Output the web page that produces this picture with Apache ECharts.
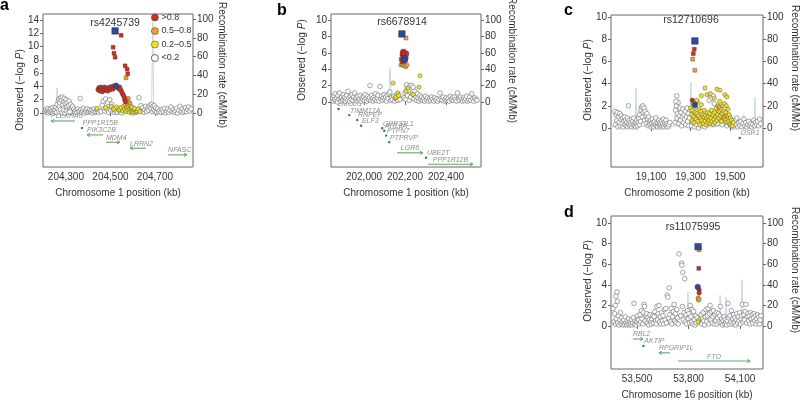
<!DOCTYPE html>
<html><head><meta charset="utf-8">
<script src="https://cdn.jsdelivr.net/npm/echarts@6/dist/echarts.min.js"></script>
<style>html,body{margin:0;padding:0;background:#fff}#c{width:800px;height:403px}</style>
</head><body><div id="c"></div>
<script>
// ---------------- DATA ----------------
const recTicks = [0,20,40,60,80,100];
const aXTicks = [204300,204500,204700];
const aYTicks = [0,2,4,6,8,10,12,14];
const bXTicks = [202000,202200,202400];
const bYTicks = [0,2,4,6,8,10];
const cXTicks = [19100,19300,19500];
const cYTicks = [0,2,4,6,8,10];
const dXTicks = [53500,53800,54100];
const dYTicks = [0,2,4,6,8,10];
const legendNames = ['>0.8','0.5–0.8','0.2–0.5','<0.2'];
const snpNames = ['rs4245739','rs6678914','rs12710696','rs11075995'];
const xTitles = ['Chromosome 1 position (kb)','Chromosome 1 position (kb)','Chromosome 2 position (kb)','Chromosome 16 position (kb)'];

// panel a
const aGrey = [[204207,0.2],[204210,0.5],[204213,0.1],[204216,0.3],[204219,0.7],[204222,0.0],[204225,0.4],[204228,0.2],[204231,0.6],[204234,0.1],[204237,0.3],[204240,0.8],[204243,0.0],[204246,0.5],[204249,0.2],[204252,0.4],[204255,0.9],[204258,0.1],
[204261,1.3],[204264,0.6],[204266,1.8],[204269,2.1],[204271,1.0],[204273,1.5],[204276,2.3],[204278,0.3],[204280,1.9],[204283,2.4],[204285,1.2],[204287,0.7],[204290,1.7],[204292,2.2],[204295,0.4],[204297,1.4],[204300,2.0],[204303,0.9],[204305,1.6],[204308,0.2],[204311,1.1],[204314,1.8],[204317,0.5],[204320,1.3],[204323,0.1],[204326,0.8],[204330,1.0],[204333,0.3],[204336,0.6],[204340,0.2],
[204268,0.2],[204275,0.5],[204282,0.1],[204289,0.4],[204296,0.0],[204302,0.3],[204310,0.1],[204318,0.2],
[204344,0.4],[204348,0.1],[204352,0.6],[204356,0.2],[204360,0.3],[204364,2.2],[204367,0.5],[204371,0.1],[204375,0.3],[204379,0.7],[204383,0.0],[204387,0.4],[204391,0.2],[204395,0.6],[204399,0.1],[204403,0.3],[204407,0.5],[204411,0.2],[204415,0.4],[204419,0.0],[204423,0.3],[204427,0.6],[204431,0.1],[204435,0.2],[204439,0.5],[204443,0.3],[204447,0.1],
[204452,0.4],[204458,0.2],[204463,1.2],[204468,1.8],[204474,0.3],[204478,2.1],[204483,0.6],[204488,1.6],[204492,0.1],[204497,2.0],[204501,0.4],[204505,1.3],[204510,0.2],[204515,0.5],[204520,0.1],
[204526,0.3],[204532,0.1],[204538,0.4],[204545,0.2],[204552,0.0],[204590,0.2],[204598,0.0],[204606,0.3],[204614,0.1],[204622,0.4],[204628,2.3],[204632,0.6],[204637,1.1],
[204642,0.3],[204646,0.8],[204650,0.1],[204654,0.5],[204658,1.0],[204662,0.2],[204666,0.7],[204670,0.4],[204674,0.9],[204678,1.2],[204682,0.6],[204685,1.3],[204688,0.2],[204691,1.0],[204694,0.5],[204697,1.1],[204700,0.3],[204704,0.8],[204708,0.1],[204712,0.6],[204716,0.2],
[204722,0.4],[204727,0.1],[204732,0.5],[204737,0.2],[204742,0.7],[204747,0.0],[204752,0.3],[204757,0.6],[204762,0.1],[204767,0.4],[204772,0.9],[204777,0.2],[204782,0.5],[204787,0.1],[204792,0.3],[204797,0.7],[204802,0.0],[204807,0.4],[204812,1.0],[204817,0.2],[204822,0.6],[204827,0.1],[204832,0.3],[204837,0.8],[204842,0.2],[204847,0.5],[204852,0.9],[204857,0.3],[204862,0.6]];
const aYellow = [[204440,0.7],[204478,0.8],[204503,1.0],[204515,0.6],[204528,0.9],[204540,0.5],[204548,0.8],[204554,0.3],[204560,1.0],[204563,0.5],[204566,1.3],[204569,0.2],[204572,0.8],[204575,1.1],[204578,0.4],[204581,0.9],[204584,0.1],[204587,0.6],[204590,1.0],[204593,0.3],[204596,0.7],[204599,0.2],[204603,0.5],[204607,0.1],[204611,0.4],[204616,0.2],[204621,0.3],[204574,1.6],[204582,1.4],[204588,1.2],[204597,0.9],[204608,0.7],[204624,0.6],[204632,0.2]];
const aOrange = [[204570,5.3],[204580,2.2],[204588,1.5],[204576,1.8]];
const aRed = [[204444,3.5],[204448,3.8],[204452,3.3],[204456,3.9],[204460,3.6],[204464,3.2],[204468,3.7],[204472,3.9],[204476,3.4],[204480,3.8],[204484,3.6],[204488,3.3],[204492,3.7],[204496,3.9],[204500,3.5],[204504,3.8],[204508,4.0],[204512,3.6],[204516,3.9],[204520,4.1],[204530,4.0],[204534,3.8],[204538,3.6],[204542,3.9],[204546,3.5],[204550,3.2],[204554,2.9],[204558,2.7],[204562,2.4],[204564,2.0],[204568,1.7],[204512,9.9],[204516,9.0],[204521,8.4],[204548,11.7],[204566,7.1],[204575,6.6],[204578,5.9]];
const aLead = [[204521,12.35]];
const aLead2 = [[204525,4.1]];
const aRecomb = [[204197,1],[204240,2],[204255,3],[204260,27],[204265,2],[204300,1.5],[204350,2.5],[204400,1],[204450,2],[204500,3],[204520,1],[204560,2],[204620,1.5],[204660,2],[204685,4],[204690,97],[204695,3],[204740,1],[204800,2],[204871,1]];
const aGenes = [['PLEKHA6',204233,204341,-1.2,-1],['PPP1R15B',204370,204374,-2.26,-1],['PIK3C2B',204395,204467,-3.3,-1],['MDM4',204480,204543,-4.4,1],['LRRN2',204588,204660,-5.3,-1],['NFASC',204759,204844,-6.3,1]];

// panel b
const bGrey = [[201846,0.4],[201850,0.1],[201853,0.7],[201856,0.3],[201860,1.0],[201863,0.2],[201866,0.5],[201870,0.0],[201873,0.8],[201877,0.3],[201880,1.1],[201884,0.4],[201888,0.1],[201891,0.6],[201895,0.2],[201898,0.9],[201902,0.3],[201905,0.6],[201909,0.1],[201912,0.4],[201916,0.8],[201920,0.2],[201922,1.3],[201926,0.5],[201930,0.1],[201934,0.7],[201938,0.3],[201942,0.9],[201946,0.2],[201950,0.6],[201954,1.1],[201958,0.3],[201962,0.5],[201966,0.1],[201970,0.7],[201974,0.2],[201978,0.4],[201982,0.8],[201986,0.1],[201990,0.5],[201994,0.3],[201998,0.6],[202002,0.2],[202006,0.9],[202010,0.4],[202014,0.1],[202018,0.7],[202022,0.3],[202026,0.5],[202029,2.0],[202033,0.2],[202037,0.8],[202041,0.4],[202045,0.1],[202049,0.6],[202053,0.3],[202057,1.0],[202061,0.2],[202065,0.5],[202069,0.8],[202073,0.1],[202078,1.9],[202082,0.4],[202086,0.7],[202090,0.2],[202094,0.5],[202098,0.9],[202102,0.3],[202106,0.6],[202110,0.1],[202114,0.8],[202118,0.4],[202122,1.0],[202126,1.2],[202130,0.2],[202134,0.5],[202138,0.3],[202146,0.7],[202150,0.1],[202155,0.4],[202160,0.9],[202165,0.2],[202170,0.6],[202175,0.3],[202196,0.5],[202200,1.1],[202204,0.3],[202208,2.1],[202212,0.8],[202216,1.4],[202220,0.2],[202224,2.0],[202228,0.6],[202232,2.0],[202236,1.0],[202240,1.8],[202244,0.4],[202248,1.3],[202252,0.7],[202256,0.2],[202260,1.0],[202264,0.5],[202268,0.1],[202272,0.8],[202276,0.3],[202280,0.6],[202285,0.2],[202290,0.4],[202295,0.1],[202300,0.7],[202305,0.3],[202310,0.5],[202315,0.1],[202320,0.4],[202325,0.2],[202330,0.6],[202335,0.3],[202340,0.1],[202345,0.5],[202350,0.2],[202355,0.4],[202360,0.1],[202366,0.3],[202371,1.1],[202376,0.4],[202381,0.2],[202386,0.6],[202391,0.1],[202396,0.3],[202401,0.5],[202406,0.2],[202411,0.4],[202416,0.1],[202421,0.7],[202426,0.3],[202431,0.5],[202436,0.2],[202441,0.6],[202446,0.3],[202451,0.1],[202456,1.1],[202461,0.4],[202466,0.2],[202471,0.6],[202476,0.3],[202481,0.1],[202486,0.5],[202491,0.2],[202496,0.4],[202501,0.7],[202506,0.1],[202511,0.3],[202516,0.6],[202521,0.2],[202526,1.0],[202531,0.4],[202536,0.1],[202541,0.5],[202546,0.3],[202551,0.2]];
const bYellow = [[202142,2.3],[202151,0.5],[202156,0.6],[202166,1.1],[202170,0.8],[202205,1.3],[202215,1.7],[202268,1.8],[202273,3.2],[202240,0.9]];
const bOrange = [[202205,7.8],[202180,4.5],[202188,4.6],[202196,4.4],[202204,4.3],[202210,4.5]];
const bRed = [[202182,5.2],[202185,5.8],[202188,6.1],[202191,5.5],[202194,6.2],[202197,5.0],[202200,5.7],[202203,6.0],[202206,5.4],[202209,5.9],[202186,4.9],[202199,5.2],[202192,5.9],[202202,5.1]];
const bLead = [[202185,8.3]];
const bLead2 = [[202195,5.4],[202198,5.1]];
const bRecomb = [[201839,1],[201855,2],[201860,12],[201865,2],[201950,1],[202050,2],[202120,3],[202127,41],[202134,2],[202190,2],[202200,22],[202210,1],[202300,2],[202400,1],[202500,2],[202571,1]];
const bGenes = [['LMOD1',201868,201883,-0.85,-1],['TIMM17A',201927,201929,-1.6,-1],['RNPEP',201966,201968,-2.2,1],['ELF3',201985,201987,-2.9,1],['GPR37L1',202088,202090,-3.2,-1],['ARL8A',202098,202100,-3.5,-1],['PTPN7',202107,202109,-4.1,-1],['PTPRVP',202122,202124,-4.9,-1],['LGR6',202161,202288,-6.2,1],['UBE2T',202302,202304,-6.8,-1],['PPP1R12B',202312,202532,-7.6,1]];

// panel c
const cGrey = [[18917,1.5],[18920,0.3],[18923,1.2],[18926,0.7],[18929,1.4],[18932,0.1],[18935,1.0],[18938,0.5],[18941,1.3],[18944,0.2],[18947,0.8],[18950,1.1],[18953,0.4],[18956,0.9],[18959,0.1],[18962,0.6],[18965,1.0],[18968,0.3],[18971,0.7],[18974,0.2],[18977,0.5],[18980,0.9],[18983,0.1],[18986,0.4],[18989,0.7],[18992,0.2],[18995,0.5],[18998,0.3],[18985,2.0],[19001,0.8],[19004,0.1],[19007,0.6],[19010,0.3],[19013,0.9],[19016,0.2],[19019,0.5],[19022,0.1],[19025,0.4],[19028,0.7],[19031,0.2],[19034,0.5],[19037,0.9],[19040,0.3],[19043,1.2],[19046,0.6],[19049,1.6],[19052,1.9],[19055,1.0],[19058,2.0],[19061,1.4],[19064,1.8],[19067,0.7],[19070,1.5],[19073,1.1],[19076,0.4],[19079,1.3],[19082,0.8],[19085,0.2],[19088,1.0],[19091,0.5],[19094,0.3],[19097,0.7],[19100,0.1],[19103,0.4],[19106,0.8],[19109,0.2],[19112,0.5],[19115,0.1],[19118,0.6],[19121,0.3],[19124,0.9],[19127,0.2],[19130,0.5],[19133,0.1],[19136,0.4],[19139,0.7],[19142,0.2],[19145,0.5],[19148,0.3],[19151,0.1],[19154,0.6],[19157,0.2],[19160,0.4],[19163,0.8],[19166,0.1],[19169,0.5],[19172,0.3],[19175,0.7],[19178,0.2],[19182,0.4],[19186,0.1],[19190,0.3],[19195,0.5],
[19222,0.5],[19225,1.6],[19228,2.0],[19231,0.9],[19234,1.3],[19237,2.3],[19240,0.4],[19243,1.1],[19246,1.8],[19249,0.7],[19252,1.4],[19255,0.2],[19258,1.0],[19261,1.7],[19264,0.5],[19267,1.2],[19270,0.8],[19273,1.5],[19276,0.3],[19279,1.0],[19282,1.8],[19285,0.6],[19288,1.3],[19291,0.2],[19294,0.9],[19230,2.9],[19226,2.4],
[19305,0.2],[19312,0.5],[19320,0.1],[19330,0.3],[19340,0.0],[19350,0.4],[19360,0.2],[19372,0.1],[19385,0.3],[19395,2.5],[19402,2.9],[19408,2.7],[19415,2.9],[19420,2.2],[19428,1.2],[19436,0.4],[19444,1.5],[19452,0.9],[19460,0.3],[19468,1.1],[19476,0.6],[19484,0.2],[19492,0.8],[19500,0.3],[19508,0.5],[19516,0.1],
[19525,0.7],[19530,0.3],[19535,0.9],[19540,0.1],[19545,0.5],[19550,0.2],[19555,0.6],[19560,0.1],[19565,0.4],[19570,0.8],[19575,0.2],[19580,0.5],[19585,0.1],[19590,0.3],[19595,0.6],[19600,0.2],[19605,0.4],[19610,0.1],[19615,0.3],[19620,0.7],[19625,0.2],[19630,0.5],[19635,0.3],[19640,0.6],[19645,0.2],[19650,0.8],[19655,0.4]];
const cYellow = [[19300,1.8],[19304,1.2],[19307,0.7],[19310,1.6],[19313,2.2],[19316,1.0],[19319,0.5],[19322,1.4],[19325,1.9],[19328,0.8],[19331,1.3],[19334,2.4],[19337,0.6],[19340,1.1],[19343,1.7],[19346,0.3],[19349,0.9],[19352,1.5],[19355,2.1],[19358,0.7],[19361,1.2],[19364,0.4],[19367,1.0],[19370,1.6],[19373,0.6],[19376,1.1],[19379,0.3],[19382,0.9],[19385,1.4],[19388,0.5],[19391,1.0],[19394,0.7],[19397,1.3],[19400,0.4],[19403,0.9],[19406,1.6],[19409,0.6],[19412,1.2],[19415,0.3],[19418,0.8],[19421,1.4],[19424,0.5],[19427,1.0],[19430,1.8],[19433,0.7],[19436,1.2],[19439,2.0],[19442,0.9],[19445,1.5],[19448,2.4],[19451,1.1],[19454,1.7],[19457,0.6],[19460,1.3],[19463,2.0],[19466,0.9],[19469,1.5],[19472,2.2],[19475,0.8],[19478,1.4],[19481,2.0],[19484,0.5],[19487,1.1],[19490,1.7],[19493,0.6],[19496,1.2],[19499,0.4],[19502,0.9],[19505,0.3],[19508,0.7],[19512,0.2],[19516,0.5],
[19373,3.6],[19434,3.5],[19449,3.4],[19474,3.0],[19484,2.8],[19383,3.0],[19400,3.1],[19420,2.7],[19332,2.5],[19355,2.9]];
const cOrange = [[19311,6.2],[19322,5.2],[19445,1.9],[19470,1.0]];
const cRed = [[19319,7.1],[19314,6.7],[19309,2.5]];
const cLead = [[19322,7.84]];
const cLead2 = [[19322,2.1]];
const cRecomb = [[18897,1],[18980,2],[19020,3],[19024,36],[19028,2],[19150,1],[19250,2],[19298,3],[19302,41],[19306,2],[19400,1],[19500,2],[19565,2],[19570,12],[19575,2],[19622,3],[19626,28],[19630,2],[19667,1]];
const cGenes = [['OSR1',19548,19550,-0.9,-1]];

// panel d
const dGrey = [[53362,1.7],[53366,0.4],[53370,1.2],[53374,2.0],[53376,0.2],[53378,2.9],[53380,0.7],[53384,3.3],[53386,2.4],[53388,0.3],[53392,1.0],[53396,0.1],[53400,0.6],[53404,1.3],[53408,0.2],[53412,0.8],[53416,0.4],[53420,0.1],[53424,0.6],[53428,0.2],[53432,0.9],[53436,0.3],[53440,0.1],[53444,0.5],[53448,0.2],[53452,0.7],[53456,0.1],[53460,0.4],[53464,0.2],[53468,0.6],[53472,0.1],[53476,0.3],[53480,0.8],[53483,2.2],[53486,0.2],[53490,0.5],[53494,0.1],[53498,0.4],[53502,1.0],[53506,0.3],[53510,0.6],[53514,0.2],[53518,1.1],[53522,0.4],[53526,1.5],[53530,0.7],[53534,0.2],[53538,1.3],[53541,2.1],[53544,1.9],[53548,0.5],[53552,1.0],[53556,1.2],[53560,0.3],[53564,0.8],[53568,0.1],[53572,0.6],[53576,1.1],[53580,0.4],[53584,0.2],[53588,0.7],[53592,1.0],[53596,0.3],[53600,0.9],[53604,1.4],[53608,0.5],[53612,0.2],[53616,1.9],[53620,0.6],[53624,1.2],[53628,2.0],[53632,0.4],[53636,0.9],[53640,0.2],[53644,1.3],[53648,0.5],[53652,1.0],[53656,0.2],[53660,1.6],[53664,0.6],[53668,1.7],[53672,0.3],[53676,3.0],[53680,2.8],[53684,0.8],[53688,3.7],[53692,1.1],[53696,0.4],[53700,1.7],[53704,0.2],[53708,0.9],[53712,1.4],[53716,2.1],[53720,0.5],[53724,1.2],[53728,0.3],[53732,1.6],[53736,0.8],[53740,0.2],[53745,7.0],[53755,1.0],[53760,6.1],[53762,5.9],[53765,1.9],[53767,5.2],[53770,0.6],[53774,1.3],[53778,4.6],[53782,0.4],[53786,1.1],[53790,0.2],[53794,1.5],[53798,0.7],[53802,1.2],[53806,0.3],[53810,2.0],[53814,0.9],[53818,0.4],[53822,1.6],[53826,0.2],[53830,1.4],[53834,0.6],[53838,0.1],[53842,1.0],[53846,0.3],[53850,0.8],[53870,0.4],[53874,1.1],[53878,0.2],[53882,0.7],[53886,1.3],[53890,0.5],[53894,0.1],[53898,0.9],[53902,1.6],[53906,0.4],[53910,1.0],[53914,1.7],[53918,0.2],[53922,1.2],[53926,2.0],[53930,0.6],[53934,1.4],[53938,0.3],[53942,0.9],[53946,1.5],[53950,0.2],[53954,1.1],[53958,0.5],[53962,1.3],[53966,0.2],[53970,0.8],[53974,1.2],[53978,0.4],[53982,1.0],[53986,1.9],[53990,0.3],[53994,0.7],[53998,0.1],[54002,0.5],[54006,0.9],[54010,0.2],[54014,0.6],[54018,0.3],[54022,0.1],[54026,0.5],[54030,2.2],[54034,0.8],[54038,0.2],[54042,1.0],[54046,0.4],[54050,1.5],[54054,0.2],[54058,0.7],[54062,1.1],[54066,0.3],[54070,0.8],[54074,0.1],[54078,0.6],[54082,1.2],[54086,0.3],[54090,0.9],[54094,0.5],[54098,1.3],[54102,0.2],[54106,0.7],[54110,1.0],[54114,2.1],[54118,0.4],[54122,1.1],[54126,0.6],[54130,1.4],[54134,2.1],[54138,0.3],[54142,0.9],[54146,1.2],[54150,0.5],[54154,1.0],[54158,0.2],[54162,1.3],[54166,0.7],[54170,1.1],[54174,0.3],[54178,0.8],[54182,1.2],[54186,0.5],[54190,1.0],[54194,0.2],[54198,0.7],[54202,1.1],[54206,0.4],[54210,0.9],[54214,0.2],[54218,0.6],[54222,1.0]];
const dYellow = [[53858,2.5],[53860,0.6],[53856,0.4]];
const dOrange = [[53862,7.4],[53856,2.7],[53862,2.6]];
const dRed = [[53860,5.6],[53862,3.5],[53862,3.2]];
const dLead = [[53856,7.7]];
const dLead2 = [[53854,3.8]];
const dRecomb = [[53349,1],[53500,2],[53650,1],[53790,3],[53797,33],[53804,2],[53900,2],[53980,3],[53984,30],[53990,2],[54015,3],[54019,28],[54024,2],[54105,4],[54112,45],[54118,3],[54234,1]];
const dGenes = [['RBL2',53477,53535,-1.26,1],['AKTIP',53537,53539,-1.94,-1],['RPGRIP1L',53628,53692,-2.6,-1],['FTO',53739,54159,-3.4,1]];

// ---------------- LAYOUT / STYLE ----------------
const FONT = '"Liberation Sans", Arial, Helvetica, sans-serif';
const TXT = '#333';
const COL = {red:'#d52b1e', orange:'#f2a02c', yellow:'#f4e21c', grey:'#ffffff', blue:'#2d4a9b', gene:'#6aa36a', rec:'#bcd5ea'};
const panels = [
  {grid:{left:43,top:14,width:150,height:153}, x:[204197,204871], yl:[-8.13,14.9], k:7.07, xt:aXTicks, yt:aYTicks,
   d:{grey:aGrey,yellow:aYellow,orange:aOrange,red:aRed,lead:aLead,lead2:aLead2,rec:aRecomb,genes:aGenes}},
  {grid:{left:331,top:14,width:150,height:153}, x:[201839,202571], yl:[-7.93,10.73], k:10, xt:bXTicks, yt:bYTicks,
   d:{grey:bGrey,yellow:bYellow,orange:bOrange,red:bRed,lead:bLead,lead2:bLead2,rec:bRecomb,genes:bGenes}},
  {grid:{left:611,top:15,width:152,height:152}, x:[18897,19667], yl:[-3.51,10.18], k:10, xt:cXTicks, yt:cYTicks,
   d:{grey:cGrey,yellow:cYellow,orange:cOrange,red:cRed,lead:cLead,lead2:cLead2,rec:cRecomb,genes:cGenes}},
  {grid:{left:611,top:216,width:152,height:153}, x:[53349,54234], yl:[-4.17,10.68], k:10, xt:dXTicks, yt:dYTicks,
   d:{grey:dGrey,yellow:dYellow,orange:dOrange,red:dRed,lead:dLead,lead2:dLead2,rec:dRecomb,genes:dGenes}}
];

const grids=[], xAxes=[], yAxes=[], series=[];
const tickStyle = {show:true, length:3, lineStyle:{color:'#666', width:1}};
panels.forEach((p,i)=>{
  grids.push(Object.assign({show:true, borderColor:'#666', borderWidth:1, backgroundColor:'transparent'}, p.grid));
  xAxes.push({type:'value', gridIndex:i, min:p.x[0], max:p.x[1], axisLine:{show:false}, splitLine:{show:false},
    axisTick:Object.assign({customValues:p.xt}, tickStyle),
    axisLabel:{customValues:p.xt, formatter:v=>v.toLocaleString('en-US'), fontSize:10, color:TXT, fontFamily:FONT, margin:5},
    name:xTitles[i], nameLocation:'middle', nameGap:21, nameTextStyle:{fontSize:10, color:TXT, fontFamily:FONT}});
  yAxes.push({type:'value', gridIndex:i, position:'left', min:p.yl[0], max:p.yl[1], axisLine:{show:false}, splitLine:{show:false},
    axisTick:Object.assign({customValues:p.yt}, tickStyle),
    axisLabel:{customValues:p.yt, fontSize:10, color:TXT, fontFamily:FONT, margin:4}});
  yAxes.push({type:'value', gridIndex:i, position:'right', min:p.yl[0]*p.k, max:p.yl[1]*p.k, axisLine:{show:false}, splitLine:{show:false},
    axisTick:Object.assign({customValues:recTicks}, tickStyle),
    axisLabel:{customValues:recTicks, fontSize:10, color:TXT, fontFamily:FONT, margin:4}});
  const yL = 2*i, yR = 2*i+1;
  series.push({type:'line', xAxisIndex:i, yAxisIndex:yR, data:p.d.rec, symbol:'none', lineStyle:{color:COL.rec, width:0.9}, z:1, silent:true});
  series.push({type:'custom', xAxisIndex:i, yAxisIndex:yL, data:p.d.genes.map(g=>[g[1],g[2],g[3],g[4]]), encode:{x:[0,1], y:2}, z:2, silent:true,
    renderItem:(params, api)=>{
      const g = p.d.genes[params.dataIndex];
      const p1 = api.coord([g[1], g[3]]), p2 = api.coord([g[2], g[3]]);
      const w = p2[0]-p1[0];
      const tw = g[0].length*4;
      const ch = [];
      let tx, align;
      if (w < 4) {
        ch.push({type:'circle', shape:{cx:(p1[0]+p2[0])/2, cy:p1[1], r:1.2}, style:{fill:'#3d7a3d'}});
        tx = p1[0]+1; align='left';
      } else {
        ch.push({type:'line', shape:{x1:p1[0], y1:p1[1], x2:p2[0], y2:p2[1]}, style:{stroke:COL.gene, lineWidth:1.1}});
        const ex = g[4] > 0 ? p2[0] : p1[0], dir = g[4] > 0 ? -1 : 1;
        ch.push({type:'polyline', shape:{points:[[ex+dir*3,p1[1]-1.6],[ex,p1[1]],[ex+dir*3,p1[1]+1.6]]}, style:{stroke:COL.gene, lineWidth:1, fill:null}});
        if (w >= tw) { tx=(p1[0]+p2[0])/2; align='center'; } else { tx=p1[0]; align='left'; }
      }
      ch.push({type:'text', x:tx, y:p1[1]-1, style:{text:g[0], fill:'#8c8c8c', font:'italic 7px '+FONT, textAlign:align, textVerticalAlign:'bottom'}});
      return {type:'group', children:ch};
    }});
  const mk = (name, data, color, size, symbol, z, bc, bw) => ({type:'scatter', name:name, xAxisIndex:i, yAxisIndex:yL, data:data,
    symbol:symbol, symbolSize:size, itemStyle:{color:color, opacity:1, borderColor:bc, borderWidth:bw}, z:z, silent:true});
  series.push(mk(i===0?legendNames[3]:'g'+i, p.d.grey, COL.grey, 4.6, 'circle', 3, '#6a6a6a', 0.6));
  series.push(mk(i===0?legendNames[2]:'y'+i, p.d.yellow, COL.yellow, 4.2, 'circle', 4, '#555', 0.5));
  series.push(mk(i===0?legendNames[1]:'o'+i, p.d.orange, COL.orange, v=>v[1]>4.5?3.8:4.2, v=>v[1]>4.5?'rect':'circle', 5, '#555', 0.5));
  series.push(mk(i===0?legendNames[0]:'r'+i, p.d.red, COL.red, v=>v[1]>4.5?3.8:4.4, v=>v[1]>4.5?'rect':'circle', 6, '#444', 0.5));
  series.push(mk('l2'+i, p.d.lead2, COL.blue, 5.5, 'circle', 7, '#333', 0.5));
  series.push(mk('l'+i, p.d.lead, COL.blue, 6.5, 'rect', 8, '#333', 0.5));
});

// titles / labels as graphic text
const rich = {n:{fontSize:10, fontFamily:FONT, fill:TXT, color:TXT}, i:{fontSize:10, fontFamily:FONT, fontStyle:'italic', fill:TXT, color:TXT}};
const yTitlePos = [[20,90],[302,60],[588,80],[588,281]];
const rTitlePos = [[222,65],[512,60],[795,68],[795,270]];
const snpPos = [[115,23],[402,22],[691,20],[693,227]];
const letterPos = [[0,14],[277,19],[564,19],[564,221]];
const graphics = [];
['a','b','c','d'].forEach((L,i)=>{
  graphics.push({type:'text', x:letterPos[i][0], y:letterPos[i][1], style:{text:L, font:'bold 16px '+FONT, fill:'#000', textAlign:'left', textVerticalAlign:'bottom'}});
  graphics.push({type:'text', x:yTitlePos[i][0], y:yTitlePos[i][1], rotation:Math.PI/2,
    style:{text:'{n|Observed (−log }{i|P}{n|)}', rich:rich, textAlign:'center', textVerticalAlign:'middle'}});
  graphics.push({type:'text', x:rTitlePos[i][0], y:rTitlePos[i][1], rotation:-Math.PI/2,
    style:{text:'Recombination rate (cM/Mb)', font:'10px '+FONT, fill:TXT, textAlign:'center', textVerticalAlign:'middle'}});
  graphics.push({type:'text', x:snpPos[i][0], y:snpPos[i][1], style:{text:snpNames[i], font:'10.5px '+FONT, fill:TXT, textAlign:'center', textVerticalAlign:'middle'}});
});

const chart = echarts.init(document.getElementById('c'), null, {renderer:'canvas'});
chart.setOption({
  animation:false,
  backgroundColor:'#fff',
  grid:grids, xAxis:xAxes, yAxis:yAxes, series:series, graphic:graphics,
  legend:{orient:'vertical', left:151, top:13, itemWidth:7, itemHeight:7, itemGap:4.5, padding:0, selectedMode:false,
    textStyle:{fontSize:9, color:TXT, fontFamily:FONT, padding:[0,0,0,-2]},
    data:[
      {name:legendNames[0], icon:'circle', itemStyle:{color:COL.red, borderColor:'#444', borderWidth:0.6}},
      {name:legendNames[1], icon:'circle', itemStyle:{color:COL.orange, borderColor:'#444', borderWidth:0.6}},
      {name:legendNames[2], icon:'circle', itemStyle:{color:COL.yellow, borderColor:'#444', borderWidth:0.6}},
      {name:legendNames[3], icon:'circle', itemStyle:{color:'#fff', borderColor:'#444', borderWidth:0.8}}
    ]}
});
</script></body></html>
